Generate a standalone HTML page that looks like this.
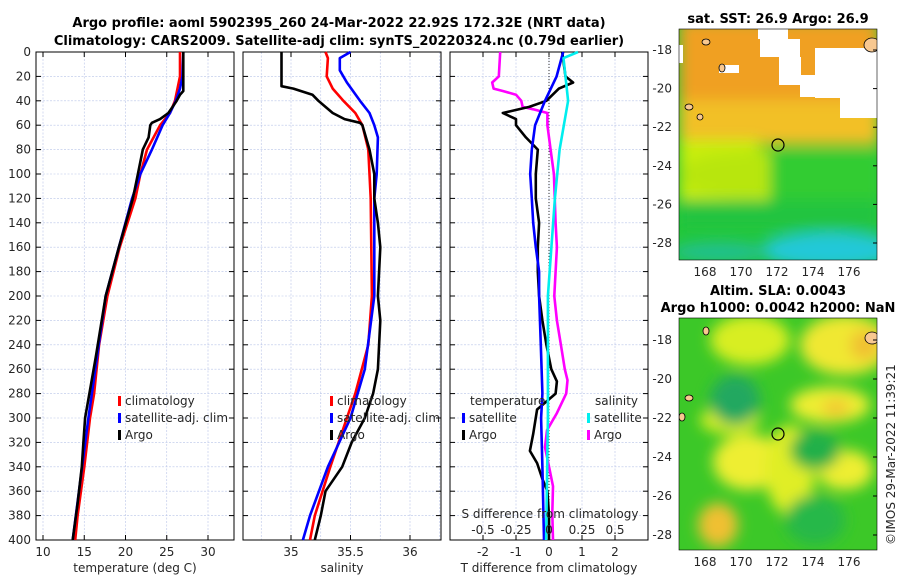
<!DOCTYPE html>
<html><head><meta charset="utf-8"><style>
body{margin:0;background:#fff;}
svg{display:block;font-family:"DejaVu Sans","Liberation Sans",sans-serif;}
.t{font-size:12px;fill:#262626}
.b{font-size:13px;font-weight:bold;fill:#000}
</style></head><body>
<svg id="c" width="900" height="580" viewBox="0 0 900 580">
<defs>
<filter id="bl" x="-20%" y="-20%" width="140%" height="140%"><feGaussianBlur stdDeviation="7"/></filter>
<clipPath id="m1"><rect x="679" y="29" width="198" height="231"/></clipPath>
<clipPath id="m2"><rect x="679" y="318" width="198" height="232"/></clipPath>
</defs>
<text class="b" x="339" y="27" text-anchor="middle">Argo profile: aoml 5902395_260 24-Mar-2022 22.92S 172.32E (NRT data)</text>
<text class="b" x="339" y="45" text-anchor="middle">Climatology: CARS2009. Satellite-adj clim: synTS_20220324.nc (0.79d earlier)</text>

<g id="maps">
<g clip-path="url(#m1)">
<rect x="679" y="29" width="198" height="231" fill="#22c838"/>
<g filter="url(#bl)">
<rect x="679" y="20" width="200" height="100" fill="#f0a020"/>
<rect x="679" y="100" width="200" height="45" fill="#f2c028"/>
<rect x="679" y="140" width="80" height="60" fill="#c8ee10"/>
<rect x="740" y="150" width="40" height="60" fill="#c0ea10"/>
<ellipse cx="740" cy="175" rx="60" ry="22" fill="#b8e610"/>
<rect x="770" y="150" width="110" height="50" fill="#30cc30"/>
<rect x="679" y="200" width="200" height="30" fill="#22c440"/>
<ellipse cx="830" cy="250" rx="70" ry="18" fill="#20c8d8"/>
<ellipse cx="720" cy="252" rx="50" ry="10" fill="#20c090"/>
</g>
<g fill="#fff">
<rect x="758" y="29" width="30" height="10"/><rect x="760" y="39" width="40" height="18"/><rect x="779" y="57" width="22" height="28"/>
<rect x="815" y="48" width="62" height="50"/><rect x="840" y="98" width="37" height="20"/><rect x="800" y="75" width="20" height="22"/>
<rect x="679" y="45" width="4" height="18"/><rect x="719" y="65" width="20" height="8"/>
</g>
<circle cx="778" cy="145" r="6" fill="none" stroke="#000" stroke-width="1.2"/>
<ellipse cx="706" cy="42" rx="4" ry="3" fill="#f8c890" stroke="#000" stroke-width="0.8"/>
<ellipse cx="722" cy="68" rx="3" ry="4" fill="#f8c890" stroke="#000" stroke-width="0.8"/>
<ellipse cx="689" cy="107" rx="4" ry="3" fill="#f8c890" stroke="#000" stroke-width="0.8"/>
<ellipse cx="700" cy="117" rx="3" ry="3" fill="#f8c890" stroke="#000" stroke-width="0.8"/>
<ellipse cx="872" cy="45" rx="8" ry="7" fill="#f8c890" stroke="#000" stroke-width="0.8"/>
</g>
<g clip-path="url(#m2)">
<rect x="679" y="318" width="198" height="232" fill="#3cc828"/>
<g filter="url(#bl)">
<ellipse cx="750" cy="340" rx="40" ry="25" fill="#d8ee20"/>
<ellipse cx="845" cy="345" rx="45" ry="30" fill="#f0e830"/>
<ellipse cx="865" cy="345" rx="15" ry="15" fill="#f0c030"/>
<ellipse cx="830" cy="405" rx="40" ry="18" fill="#eeee30"/>
<ellipse cx="836" cy="408" rx="14" ry="9" fill="#f2c830"/>
<ellipse cx="748" cy="462" rx="35" ry="28" fill="#eeee30"/>
<ellipse cx="730" cy="420" rx="30" ry="14" fill="#d8ee20"/>
<ellipse cx="718" cy="525" rx="20" ry="22" fill="#f0c030"/>
<ellipse cx="790" cy="470" rx="25" ry="45" fill="#e0ee28"/>
<ellipse cx="845" cy="470" rx="28" ry="20" fill="#eeee30"/>
<ellipse cx="735" cy="400" rx="25" ry="25" fill="#20a860"/>
<ellipse cx="815" cy="450" rx="25" ry="20" fill="#20b048"/>
<ellipse cx="815" cy="520" rx="30" ry="25" fill="#28b848"/>
</g>
<circle cx="778" cy="434" r="6" fill="none" stroke="#000" stroke-width="1.2"/>
<ellipse cx="706" cy="331" rx="3" ry="4" fill="#f8c890" stroke="#000" stroke-width="0.8"/>
<ellipse cx="689" cy="398" rx="4" ry="3" fill="#f8c890" stroke="#000" stroke-width="0.8"/>
<ellipse cx="682" cy="417" rx="3" ry="4" fill="#f8c890" stroke="#000" stroke-width="0.8"/>
<ellipse cx="872" cy="338" rx="7" ry="6" fill="#f8c890" stroke="#000" stroke-width="0.8"/>
</g>
<rect x="679" y="29" width="198" height="231" fill="none" stroke="#000" stroke-width="0.6"/>
<rect x="679" y="318" width="198" height="232" fill="none" stroke="#000" stroke-width="0.6"/>
<text class="b" x="778" y="23" text-anchor="middle">sat. SST: 26.9 Argo: 26.9</text>
<text class="b" x="778" y="295" text-anchor="middle">Altim. SLA: 0.0043</text>
<text class="b" x="778" y="312" text-anchor="middle">Argo h1000: 0.0042 h2000: NaN</text>
<text class="t" x="895" y="545" transform="rotate(-90 895 545)">©IMOS 29-Mar-2022 11:39:21</text>
</g>
</svg>
<script>
// ---- data ----
const depthTicks=[0,20,40,60,80,100,120,140,160,180,200,220,240,260,280,300,320,340,360,380,400];
const tempTicks=[10,15,20,25,30];
const salTicks=[35,35.5,36];
const dTTicks=[-2,-1,0,1,2];
const dSTickLabels=['-0.5','-0.25','0','0.25','0.5'];
const dSTicks=[-0.5,-0.25,0,0.25,0.5];
const latTicks=[-18,-20,-22,-24,-26,-28];
const lonTicks=[168,170,172,174,176];

const tClimDepth=[0,20,40,50,60,80,100,120,160,200,240,280,300,340,380,400];
const tClim=[26.6,26.6,26.0,25.4,24.2,22.6,21.8,21.2,19.3,17.8,16.8,16.2,15.7,15.0,14.2,13.9];
const tSatDepth=[0,20,30,40,50,60,80,100,120,200,300,400];
const tSat=[27.0,26.9,26.6,26.1,25.4,24.5,23.2,21.8,20.8,17.6,15.5,13.6];
const tArgoDepth=[0,32,35,40,50,55,58,60,70,80,100,120,160,200,250,300,320,340,370,400];
const tArgo=[27.0,27.0,26.6,26.2,25.2,24.2,23.2,23.0,22.8,22.1,21.5,20.9,19.2,17.6,16.4,15.1,14.9,14.7,14.2,13.6];

const sClimDepth=[0,5,20,30,40,50,60,80,100,120,200,240,280,300,340,380,400];
const sClim=[35.29,35.31,35.30,35.35,35.44,35.54,35.60,35.65,35.66,35.67,35.68,35.65,35.54,35.47,35.33,35.20,35.16];
const sSatDepth=[0,5,15,25,40,50,60,70,100,120,200,260,300,340,380,400];
const sSat=[35.50,35.41,35.41,35.47,35.58,35.66,35.70,35.73,35.72,35.70,35.70,35.62,35.50,35.31,35.16,35.10];
const sArgoDepth=[0,28,30,35,40,45,50,55,58,60,80,100,120,140,160,200,220,260,280,300,320,340,360,380,400];
const sArgo=[34.92,34.92,35.02,35.18,35.23,35.29,35.35,35.45,35.58,35.60,35.66,35.70,35.70,35.73,35.75,35.73,35.75,35.73,35.69,35.62,35.51,35.43,35.29,35.25,35.20];

const dTSatDepth=[0,20,40,60,80,100,120,140,160,180,200,240,280,300,340,400];
const dTSat=[0.43,0.23,-0.12,-0.42,-0.52,-0.57,-0.52,-0.48,-0.40,-0.30,-0.30,-0.25,-0.20,-0.24,-0.20,-0.15];
const dTArgoDepth=[0,20,25,30,40,45,50,55,60,70,80,100,120,140,160,180,200,220,240,260,270,280,293,313,327,337,350,360,380,400];
const dTArgo=[0.4,0.5,0.73,0.3,-0.08,-0.6,-1.4,-1.0,-1.0,-0.7,-0.34,-0.4,-0.4,-0.3,-0.34,-0.34,-0.3,-0.2,-0.08,0.07,0.24,0.2,-0.36,-0.48,-0.58,-0.36,-0.2,-0.05,0,0];
const dSSatDepth=[0,5,40,80,120,160,200,240,280,300,400];
const dSSat=[0.22,0.11,0.145,0.08,0.045,0.018,-0.008,-0.008,-0.008,-0.008,-0.022];
const dSArgoDepth=[0,20,25,30,32,35,40,45,47,50,60,80,100,140,160,180,200,220,240,260,269,280,296,310,324,337,356,378,400];
const dSArgo=[-0.37,-0.38,-0.43,-0.42,-0.35,-0.25,-0.21,-0.2,-0.12,-0.012,-0.012,0.012,0.037,0.05,0.06,0.05,0.04,0.06,0.09,0.12,0.14,0.13,0.06,-0.015,-0.03,-0.005,0.03,0.025,0.03];

// ---- axes ----
const NS='http://www.w3.org/2000/svg';
const svg=document.getElementById('c');
const Y0=52,Y1=540;
const yD=d=>Y0+(d/400)*(Y1-Y0);
const xT=v=>43+(v-10)*8.25;
const xS=v=>291+(v-35)*119;
const xDT=v=>549+v*33;
const xDS=v=>549+v*132;
const latY1=v=>50+(-18-v)*19.3;
const lonX=v=>705+(v-168)*18;
const latY2=v=>340+(-18-v)*19.5;

function el(tag,attrs,parent){const e=document.createElementNS(NS,tag);for(const k in attrs)e.setAttribute(k,attrs[k]);(parent||svg).appendChild(e);return e;}
function txt(s,x,y,anchor,parent,cls){const e=el('text',{x:x,y:y,'text-anchor':anchor||'middle',class:cls||'t'},parent);e.textContent=s;return e;}

const panels=[{x:36,name:'temperature-panel',ticks:tempTicks,f:xT,xlabel:'temperature (deg C)'},
 {x:243,name:'salinity-panel',ticks:salTicks,f:xS,xlabel:'salinity'},
 {x:450,name:'difference-panel',ticks:dTTicks,f:xDT,xlabel:'T difference from climatology'}];
const W=198;
panels.forEach((p,i)=>{
  const g=el('g',{});
  
  
  depthTicks.forEach(d=>{el('line',{x1:p.x,x2:p.x+W,y1:yD(d),y2:yD(d),stroke:'#b8c4e8','stroke-width':0.6,'stroke-dasharray':'2 1.5'},g);});
  const gx = i===0?[10,15,20,25,30]:(i===1?[34.75,35,35.25,35.5,35.75,36,36.25]:[-2,-1,0,1,2]);
  gx.forEach(v=>{const x=p.f(v);if(x>p.x&&x<p.x+W)el('line',{x1:x,x2:x,y1:Y0,y2:Y1,stroke:'#b8c4e8','stroke-width':0.6,'stroke-dasharray':'2 1.5'},g);});
  el('rect',{x:p.x,y:Y0,width:W,height:Y1-Y0,fill:'none',stroke:'#000','stroke-width':1},g);
  depthTicks.forEach(d=>{el('line',{x1:p.x,x2:p.x+5,y1:yD(d),y2:yD(d),stroke:'#000'},g);el('line',{x1:p.x+W-5,x2:p.x+W,y1:yD(d),y2:yD(d),stroke:'#000'},g);});
  p.ticks.forEach((v,k)=>{const x=p.f(v);el('line',{x1:x,x2:x,y1:Y1,y2:Y1-5,stroke:'#000'},g);el('line',{x1:x,x2:x,y1:Y0,y2:Y0+5,stroke:'#000'},g);
    const lab = String(v);
    const t=txt(lab,x,556,'middle',g);
    
    });
  const xl=txt(p.xlabel,p.x+W/2,572,'middle',g);
  
  
});
depthTicks.forEach(d=>{const t=txt(String(d),31,yD(d)+4,'end');
  
  });
const zl=el('line',{x1:xDT(0),x2:xDT(0),y1:Y0,y2:Y1,stroke:'#333','stroke-width':1,'stroke-dasharray':'1 2'});



function line(depths,vals,fx,color,name){
  const pts=depths.map((d,k)=>fx(vals[k]).toFixed(1)+','+yD(d).toFixed(1)).join(' ');
  const pl=el('polyline',{points:pts,fill:'none',stroke:color,'stroke-width':2.6,'stroke-linejoin':'round'});
  
  
}
line(tClimDepth,tClim,xT,'#ff0000','temp-climatology-line');
line(tSatDepth,tSat,xT,'#0000ff','temp-satellite-line');
line(tArgoDepth,tArgo,xT,'#000','temp-argo-line');
line(sClimDepth,sClim,xS,'#ff0000','sal-climatology-line');
line(sSatDepth,sSat,xS,'#0000ff','sal-satellite-line');
line(sArgoDepth,sArgo,xS,'#000','sal-argo-line');
line(dSArgoDepth,dSArgo,xDS,'#ff00ff','sdiff-argo-line');
line(dTArgoDepth,dTArgo,xDT,'#000','tdiff-argo-line');
line(dTSatDepth,dTSat,xDT,'#0000ff','tdiff-satellite-line');
line(dSSatDepth,dSSat,xDS,'#00eeee','sdiff-satellite-line');

const sl=txt('S difference from climatology',550,518,'middle');


dSTicks.forEach((v,k)=>{const t=txt(dSTickLabels[k],xDS(v),534,'middle');
  
  });

function leg(x,y,color,label){
  const g=el('g',{});
  
  
  el('rect',{x:x,y:y-9,width:3,height:10,fill:color},g);
  txt(label,x+7,y,'start',g);
}
[[118,'climatology','#ff0000'],[118,'satellite-adj. clim','#0000ff'],[118,'Argo','#000']].forEach((e,k)=>leg(e[0],405+k*17,e[2],e[1]));
[[330,'climatology','#ff0000'],[330,'satellite-adj. clim','#0000ff'],[330,'Argo','#000']].forEach((e,k)=>leg(e[0],405+k*17,e[2],e[1]));
const lt=txt('temperature',470,405,'start');


leg(462,422,'#0000ff','satellite');leg(462,439,'#000','Argo');
const ls=txt('salinity',595,405,'start');


leg(587,422,'#00eeee','satellite');leg(587,439,'#ff00ff','Argo');

latTicks.forEach(v=>{
  let y=latY1(v);el('line',{x1:873,x2:877,y1:y,y2:y,stroke:'#000'});
  let t=txt(String(v),672,y+4,'end');
  
  
  y=latY2(v);el('line',{x1:873,x2:877,y1:y,y2:y,stroke:'#000'});
  t=txt(String(v),672,y+4,'end');
  
  
});
lonTicks.forEach(v=>{
  const x=lonX(v);
  let t=txt(String(v),x,276,'middle');
  
  
  t=txt(String(v),x,566,'middle');
  
  
});
</script>
</body></html>
